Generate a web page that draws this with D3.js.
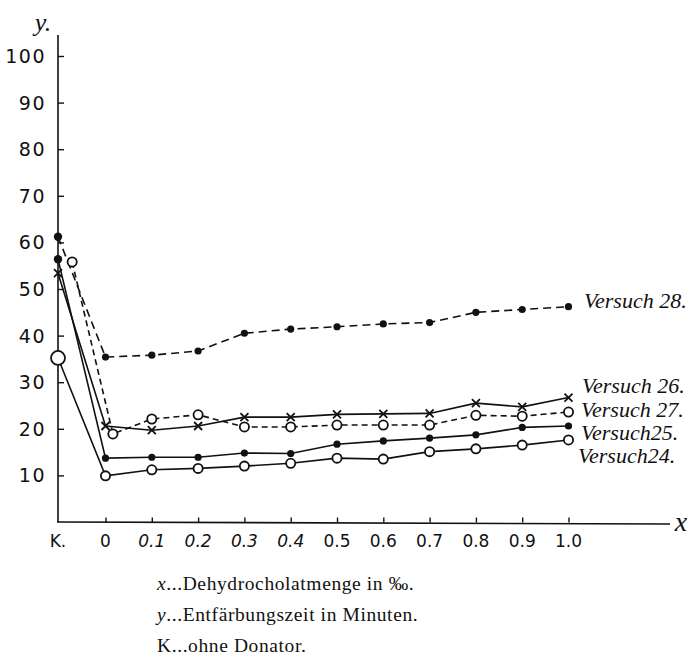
<!DOCTYPE html>
<html>
<head>
<meta charset="utf-8">
<script src="https://cdn.jsdelivr.net/npm/d3@7"></script>
<style>
  html, body { margin: 0; padding: 0; background: #fff; }
  svg { display: block; }
</style>
</head>
<body>
<svg id="chart" width="699" height="659"></svg>
<script>
// ---------- data ----------
const xCategories = ["K", 0, 0.1, 0.2, 0.3, 0.4, 0.5, 0.6, 0.7, 0.8, 0.9, 1.0];
const xTickLabels = ["K.", "0", "0.1", "0.2", "0.3", "0.4", "0.5", "0.6", "0.7", "0.8", "0.9", "1.0"];
const yTickValues = [10, 20, 30, 40, 50, 60, 70, 80, 90, 100];
const kPosition = -0.1026;              // where "K" sits on the x scale (at the y axis)
const v27Xs = [-0.072, 0.016, 0.1, 0.2, 0.3, 0.4, 0.5, 0.6, 0.7, 0.8, 0.9, 1.0]; // V27 drawn slightly offset

const versuch28 = [61.2, 35.4, 35.8, 36.7, 40.5, 41.4, 41.9, 42.5, 42.8, 45.0, 45.6, 46.2];
const versuch26 = [53.4, 20.6, 19.7, 20.6, 22.5, 22.5, 23.1, 23.2, 23.3, 25.5, 24.7, 26.7];
const versuch27 = [55.8, 18.9, 22.1, 23.0, 20.4, 20.4, 20.8, 20.8, 20.8, 22.9, 22.7, 23.6];
const versuch25 = [56.4, 13.7, 13.9, 13.9, 14.8, 14.7, 16.7, 17.4, 18.0, 18.7, 20.3, 20.6];
const versuch24 = [35.2, 9.9, 11.2, 11.5, 12.0, 12.6, 13.7, 13.5, 15.1, 15.7, 16.5, 17.6];

const seriesNames = ["Versuch 28.", "Versuch 26.", "Versuch 27.", "Versuch25.", "Versuch24."];
const captionLines = [
  ["x", "...Dehydrocholatmenge in ‰."],
  ["y", "...Entfärbungszeit in Minuten."],
  ["K", "...ohne Donator."]
];

// ---------- layout ----------
const svg = d3.select("#chart");
const x = d3.scaleLinear().domain([kPosition, 1.0]).range([58, 568.5]);
const y = d3.scaleLinear().domain([0, 100]).range([522, 56]);
const xOf = c => c === "K" ? kPosition : c;

const ink = "#111";

// axes lines
svg.append("line").attr("x1", 58).attr("x2", 58).attr("y1", 35).attr("y2", 522)
  .attr("stroke", ink).attr("stroke-width", 1.6);
svg.append("line").attr("x1", 57).attr("x2", 670).attr("y1", 522).attr("y2", 524)
  .attr("stroke", ink).attr("stroke-width", 1.6);

// y ticks + labels
const yAxis = d3.axisRight(y).tickValues(yTickValues).tickSize(6).tickFormat("");
const yg = svg.append("g").attr("transform", "translate(58,0)").call(yAxis);
yg.select(".domain").remove();
yg.selectAll(".tick line").attr("stroke", ink).attr("stroke-width", 1.4);
svg.append("g").selectAll("text").data(yTickValues).join("text")
  .attr("x", 46).attr("y", d => y(d) + 7)
  .attr("text-anchor", "end")
  .attr("font-family", "DejaVu Sans, sans-serif")
  .attr("font-size", 19)
  .attr("letter-spacing", 1.5)
  .attr("fill", ink)
  .text(d => d);

// x ticks + labels
const xNums = xCategories.filter(c => c !== "K");
const xAxis = d3.axisTop(x).tickValues(xNums).tickSize(5).tickFormat("");
const xg = svg.append("g").attr("transform", "translate(0,522.5)").call(xAxis);
xg.select(".domain").remove();
xg.selectAll(".tick line").attr("stroke", ink).attr("stroke-width", 1.4);
svg.append("g").selectAll("text").data(xCategories).join("text")
  .attr("x", d => x(xOf(d)))
  .attr("y", 547)
  .attr("text-anchor", "middle")
  .attr("font-family", "DejaVu Sans, sans-serif")
  .attr("font-size", 17)
  .attr("font-style", (d, i) => (i >= 2 && i <= 5) ? "oblique" : "normal")
  .attr("fill", ink)
  .text((d, i) => xTickLabels[i]);

// axis letters
svg.append("text").attr("x", 43).attr("y", 31).attr("text-anchor", "middle")
  .attr("font-family", "Liberation Serif, serif").attr("font-style", "italic")
  .attr("font-size", 26).attr("fill", ink).text("y.");
svg.append("text").attr("x", 681).attr("y", 531).attr("text-anchor", "middle")
  .attr("font-family", "Liberation Serif, serif").attr("font-style", "italic")
  .attr("font-size", 28).attr("fill", ink).text("x");

// ---------- series ----------
const series = [
  { name: seriesNames[0], values: versuch28, xs: xCategories.map(xOf), dash: "8,5", marker: "dot" },
  { name: seriesNames[1], values: versuch26, xs: xCategories.map(xOf), dash: null, marker: "cross" },
  { name: seriesNames[2], values: versuch27, xs: v27Xs, dash: "6,4", marker: "ring" },
  { name: seriesNames[3], values: versuch25, xs: xCategories.map(xOf), dash: null, marker: "dot" },
  { name: seriesNames[4], values: versuch24, xs: xCategories.map(xOf), dash: null, marker: "ring" }
];

const line = d3.line().x(d => x(d[0])).y(d => y(d[1]));

series.forEach((s, si) => {
  const pts = s.values.map((v, i) => [s.xs[i], v]);
  svg.append("path").datum(pts)
    .attr("d", line)
    .attr("fill", "none")
    .attr("stroke", ink)
    .attr("stroke-width", 1.6)
    .attr("stroke-dasharray", s.dash);
  const g = svg.append("g");
  pts.forEach((p, i) => {
    const cx = x(p[0]), cy = y(p[1]);
    if (s.marker === "dot") {
      g.append("circle").attr("cx", cx).attr("cy", cy).attr("r", i === 0 ? 4.2 : 3.6).attr("fill", ink);
    } else if (s.marker === "ring") {
      const r = (si === 4 && i === 0) ? 7 : 4.6;
      g.append("circle").attr("cx", cx).attr("cy", cy).attr("r", r)
        .attr("fill", "#fff").attr("stroke", ink).attr("stroke-width", 1.8);
    } else {
      const h = 4;
      g.append("path").attr("d", `M${cx - h},${cy - h}L${cx + h},${cy + h}M${cx - h},${cy + h}L${cx + h},${cy - h}`)
        .attr("stroke", ink).attr("stroke-width", 1.8);
    }
  });
});

// series labels
const labelPos = [
  { x: 584, y: 308 }, { x: 582, y: 393 }, { x: 581, y: 417 }, { x: 581, y: 440 }, { x: 578, y: 463 }
];
svg.append("g").selectAll("text").data(seriesNames).join("text")
  .attr("x", (d, i) => labelPos[i].x).attr("y", (d, i) => labelPos[i].y)
  .attr("font-family", "Liberation Serif, serif")
  .attr("font-style", "italic")
  .attr("font-size", 22)
  .attr("fill", ink)
  .text(d => d);

// caption
const cap = svg.append("g");
captionLines.forEach((ln, i) => {
  const t = cap.append("text").attr("x", 157).attr("y", 590 + i * 31)
    .attr("font-family", "Liberation Serif, serif").attr("font-size", 19.5)
    .attr("letter-spacing", 0.6).attr("fill", ink);
  t.append("tspan").attr("font-style", i < 2 ? "italic" : "normal").text(ln[0]);
  t.append("tspan").text(ln[1]);
});
</script>
</body>
</html>
